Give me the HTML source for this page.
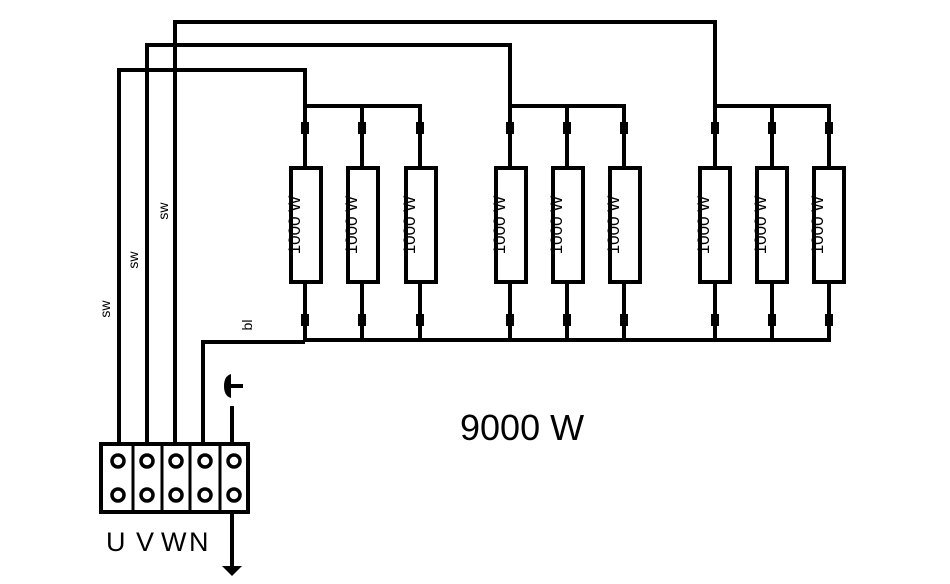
<!DOCTYPE html>
<html><head><style>
html,body{margin:0;padding:0;background:#fff;}
svg{display:block;}
text{font-family:"Liberation Sans",sans-serif;fill:#000;}
</style></head><body>
<svg width="950" height="584" viewBox="0 0 950 584" xmlns="http://www.w3.org/2000/svg">
<g stroke="#000" stroke-width="4" fill="none" stroke-linejoin="miter">
  <polyline points="119,443 119,70 305,70 305,106"/>
  <polyline points="147,443 147,45 510,45 510,106"/>
  <polyline points="175,443 175,22 715,22 715,106"/>
  <polyline points="203,443 203,342 305,342"/>
  <polyline points="305,106 420,106 420,128"/>
  <polyline points="510,106 624,106 624,128"/>
  <polyline points="715,106 829,106 829,128"/>
  <polyline points="305,340 829,340 829,318"/>
</g>
<g stroke="#000" stroke-width="4" fill="#fff">
  <line x1="305" y1="106" x2="305" y2="340"/><rect x="291" y="168" width="30" height="114"/>
  <line x1="362" y1="106" x2="362" y2="340"/><rect x="348" y="168" width="30" height="114"/>
  <line x1="420" y1="128" x2="420" y2="340"/><rect x="406" y="168" width="30" height="114"/>
  <line x1="510" y1="106" x2="510" y2="340"/><rect x="496" y="168" width="30" height="114"/>
  <line x1="567" y1="106" x2="567" y2="340"/><rect x="553" y="168" width="30" height="114"/>
  <line x1="624" y1="128" x2="624" y2="340"/><rect x="610" y="168" width="30" height="114"/>
  <line x1="715" y1="106" x2="715" y2="340"/><rect x="700" y="168" width="30" height="114"/>
  <line x1="772" y1="106" x2="772" y2="340"/><rect x="757" y="168" width="30" height="114"/>
  <line x1="829" y1="128" x2="829" y2="318"/><rect x="814" y="168" width="30" height="114"/>
</g>
<g fill="#000">
  <rect x="301" y="122" width="8" height="12"/><rect x="358" y="122" width="8" height="12"/><rect x="416" y="122" width="8" height="12"/>
  <rect x="506" y="122" width="8" height="12"/><rect x="563" y="122" width="8" height="12"/><rect x="620" y="122" width="8" height="12"/>
  <rect x="711" y="122" width="8" height="12"/><rect x="768" y="122" width="8" height="12"/><rect x="825" y="122" width="8" height="12"/>
  <rect x="301" y="314" width="8" height="12"/><rect x="358" y="314" width="8" height="12"/><rect x="416" y="314" width="8" height="12"/>
  <rect x="506" y="314" width="8" height="12"/><rect x="563" y="314" width="8" height="12"/><rect x="620" y="314" width="8" height="12"/>
  <rect x="711" y="314" width="8" height="12"/><rect x="768" y="314" width="8" height="12"/><rect x="825" y="314" width="8" height="12"/>
</g>
<g font-size="17">
  <text transform="translate(300,225) rotate(-90)" text-anchor="middle">1000 W</text>
  <text transform="translate(357,225) rotate(-90)" text-anchor="middle">1000 W</text>
  <text transform="translate(415,225) rotate(-90)" text-anchor="middle">1000 W</text>
  <text transform="translate(505,225) rotate(-90)" text-anchor="middle">1000 W</text>
  <text transform="translate(562,225) rotate(-90)" text-anchor="middle">1000 W</text>
  <text transform="translate(619,225) rotate(-90)" text-anchor="middle">1000 W</text>
  <text transform="translate(709,225) rotate(-90)" text-anchor="middle">1000 W</text>
  <text transform="translate(766,225) rotate(-90)" text-anchor="middle">1000 W</text>
  <text transform="translate(823,225) rotate(-90)" text-anchor="middle">1000 W</text>
</g>
<g font-size="14">
  <text transform="translate(110,309) rotate(-90)" text-anchor="middle">sw</text>
  <text transform="translate(138,260) rotate(-90)" text-anchor="middle">sw</text>
  <text transform="translate(168,211) rotate(-90)" text-anchor="middle">sw</text>
  <text transform="translate(252,325) rotate(-90)" text-anchor="middle">bl</text>
</g>
<g stroke="#000" stroke-width="4" fill="none">
  <line x1="232" y1="406" x2="232" y2="443"/>
  <line x1="228" y1="386" x2="243" y2="386"/>
  <line x1="232" y1="513" x2="232" y2="568"/>
</g>
<path d="M224,386 Q224,376 231,374 L231,398 Q224,396 224,386 Z" fill="#000"/>
<path d="M222,566 L242,566 L232,576 Z" fill="#000"/>
<g stroke="#000" stroke-width="4" fill="#fff">
  <rect x="101" y="444" width="147" height="68"/>
</g>
<g stroke="#000" stroke-width="3">
  <line x1="133" y1="444" x2="133" y2="512"/>
  <line x1="162" y1="444" x2="162" y2="512"/>
  <line x1="190" y1="444" x2="190" y2="512"/>
  <line x1="220" y1="444" x2="220" y2="512"/>
</g>
<g stroke="#000" stroke-width="3.5" fill="#fff">
  <circle cx="118" cy="461" r="6"/><circle cx="118" cy="495" r="6"/>
  <circle cx="147" cy="461" r="6"/><circle cx="147" cy="495" r="6"/>
  <circle cx="176" cy="461" r="6"/><circle cx="176" cy="495" r="6"/>
  <circle cx="205" cy="461" r="6"/><circle cx="205" cy="495" r="6"/>
  <circle cx="234" cy="461" r="6"/><circle cx="234" cy="495" r="6"/>
</g>
<text x="106" y="551" font-size="27">U</text>
<text x="136" y="551" font-size="27">V</text>
<text x="161" y="551" font-size="27">W</text>
<text x="189" y="551" font-size="27">N</text>
<text x="460" y="440" font-size="36">9000 W</text>
</svg>
</body></html>
